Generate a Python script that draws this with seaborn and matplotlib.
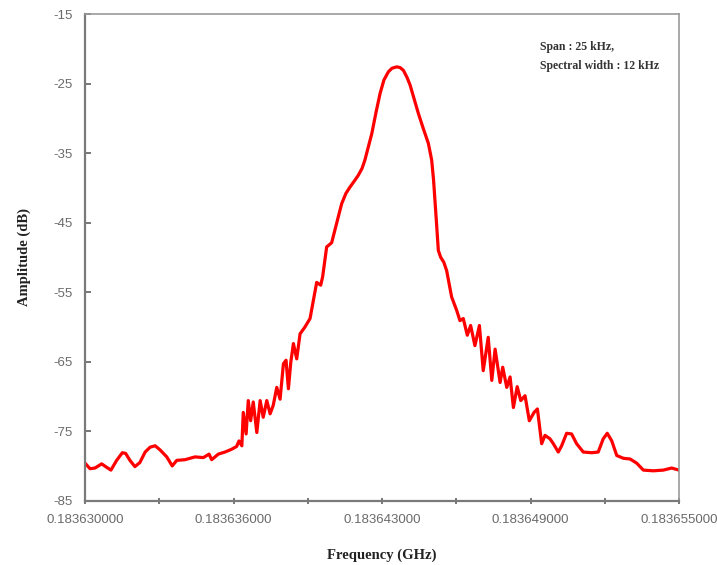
import matplotlib
matplotlib.use("Agg")
import matplotlib.pyplot as plt
import numpy as np
import pandas as pd
import seaborn as sns
from matplotlib.ticker import FixedLocator

# Spectrum trace: offset from the 0.18363 GHz start (kHz) and measured amplitude (dB)
base_ghz = 0.18363
offset_khz = [
    0.00, 0.21, 0.42, 0.70, 0.91, 1.09, 1.33, 1.57, 1.71, 1.89,
    2.10, 2.31, 2.53, 2.74, 2.95, 3.16, 3.44, 3.67, 3.86, 4.21,
    4.63, 4.98, 5.22, 5.33, 5.61, 5.89, 6.17, 6.38, 6.48, 6.60,
    6.66, 6.78, 6.87, 6.97, 7.08, 7.23, 7.37, 7.50, 7.65, 7.79,
    7.92, 8.07, 8.21, 8.35, 8.46, 8.56, 8.66, 8.77, 8.91, 9.05,
    9.26, 9.47, 9.61, 9.75, 9.92, 10.00, 10.17, 10.38, 10.59, 10.80,
    10.98, 11.15, 11.36, 11.50, 11.66, 11.78, 11.91, 12.07, 12.25, 12.42,
    12.58, 12.77, 12.92, 13.12, 13.26, 13.40, 13.55, 13.68, 13.85, 14.03,
    14.23, 14.45, 14.59, 14.67, 14.73, 14.80, 14.87, 14.97, 15.10, 15.22,
    15.32, 15.43, 15.64, 15.78, 15.92, 16.09, 16.23, 16.41, 16.60, 16.76,
    16.97, 17.12, 17.26, 17.47, 17.58, 17.75, 17.89, 18.03, 18.19, 18.34,
    18.52, 18.70, 18.90, 19.04, 19.22, 19.36, 19.57, 19.71, 19.92, 20.06,
    20.27, 20.48, 20.69, 20.97, 21.33, 21.60, 21.81, 21.98, 22.17, 22.38,
    22.66, 22.94, 23.22, 23.50, 23.92, 24.34, 24.69, 25.00,
]
amplitude_db = [
    -79.6, -80.4, -80.3, -79.7, -80.2, -80.6, -79.2, -78.1, -78.2, -79.2,
    -80.1, -79.5, -78.0, -77.3, -77.1, -77.7, -78.7, -80.0, -79.2, -79.1,
    -78.7, -78.8, -78.3, -79.1, -78.3, -78.0, -77.6, -77.2, -76.4, -77.1,
    -72.3, -75.4, -70.6, -73.5, -70.8, -75.2, -70.6, -73.0, -70.6, -72.5,
    -71.3, -68.7, -70.4, -65.3, -64.8, -68.9, -65.1, -62.4, -64.6, -61.0,
    -60.0, -58.8, -56.2, -53.6, -54.0, -52.8, -48.5, -47.9, -45.1, -42.3,
    -40.8, -39.9, -38.9, -38.2, -37.2, -36.0, -34.3, -32.2, -29.1, -26.4,
    -24.5, -23.3, -22.8, -22.6, -22.7, -23.1, -24.1, -25.2, -27.2, -29.3,
    -31.4, -33.6, -36.0, -38.9, -41.8, -45.4, -49.0, -50.0, -50.7, -51.9,
    -53.7, -55.7, -57.6, -59.1, -58.8, -61.2, -59.8, -62.7, -59.8, -66.3,
    -61.5, -67.7, -63.2, -68.0, -65.8, -68.7, -67.2, -71.6, -68.6, -70.6,
    -69.9, -73.5, -72.3, -71.8, -76.8, -75.6, -76.1, -76.8, -78.0, -77.1,
    -75.3, -75.4, -76.8, -78.0, -78.1, -78.0, -76.1, -75.3, -76.4, -78.5,
    -78.9, -79.0, -79.6, -80.6, -80.7, -80.6, -80.3, -80.6,
]

# Axis ticks (kHz offsets for the tick marks, printed labels as GHz)
major_tick_khz = [0.0, 6.25, 12.5, 18.75, 25.0]
minor_tick_khz = [3.125, 9.375, 15.625, 21.875]
x_tick_labels = ["0.183630000", "0.183636000", "0.183643000", "0.183649000", "0.183655000"]
y_ticks = [-85, -75, -65, -55, -45, -35, -25, -15]

df = pd.DataFrame({
    "Frequency (GHz)": base_ghz + np.array(offset_khz) * 1e-6,
    "Amplitude (dB)": amplitude_db,
})

sns.set_theme(style="white")
plt.rcParams["font.family"] = ["Liberation Sans", "DejaVu Sans"]
plt.rcParams["axes.unicode_minus"] = False

fig = plt.figure(figsize=(7.17, 5.65), dpi=100)
ax = fig.add_axes([0.1186, 0.1138, 0.8284, 0.8614])

sns.lineplot(data=df, x="Frequency (GHz)", y="Amplitude (dB)", ax=ax,
             color="#ff0000", linewidth=2.3, sort=False,
             solid_joinstyle="round", solid_capstyle="round")

ax.set_xlim(base_ghz, base_ghz + 25e-6)
ax.set_ylim(-85, -15)

ax.xaxis.set_major_locator(FixedLocator([base_ghz + k * 1e-6 for k in major_tick_khz]))
ax.xaxis.set_minor_locator(FixedLocator([base_ghz + k * 1e-6 for k in minor_tick_khz]))
ax.set_xticklabels(x_tick_labels)
ax.set_yticks(y_ticks)
ax.set_yticklabels([str(v) for v in y_ticks])

tick_gray = "#6a6a6a"
ax.tick_params(axis="x", which="both", direction="inout", length=5, width=1.2,
               color="#606060", labelsize=9.5, labelcolor=tick_gray, pad=7,
               bottom=True)
ax.tick_params(axis="y", which="major", direction="in", length=4, width=1.2,
               color="#606060", labelsize=9.5, labelcolor=tick_gray, pad=9,
               left=True)

for side in ["left", "bottom"]:
    ax.spines[side].set_color("#7a7a7a")
    ax.spines[side].set_linewidth(1.6)
for side in ["top", "right"]:
    ax.spines[side].set_color("#9a9a9a")
    ax.spines[side].set_linewidth(1.2)

label_font = dict(family=["Liberation Serif", "DejaVu Serif"], weight="bold",
                  size=10.5, color="#222222")
ax.set_xlabel("Frequency (GHz)", labelpad=16, **label_font)
ax.set_ylabel("Amplitude (dB)", labelpad=16, **label_font)

ax.text(0.766, 0.945, "Span : 25 kHz,\nSpectral width : 12 kHz",
        transform=ax.transAxes, ha="left", va="top", linespacing=1.75,
        family=["Liberation Serif", "DejaVu Serif"], weight="bold", size=8.5,
        color="#333333")

fig.savefig("out.png", dpi=100, facecolor="white")
